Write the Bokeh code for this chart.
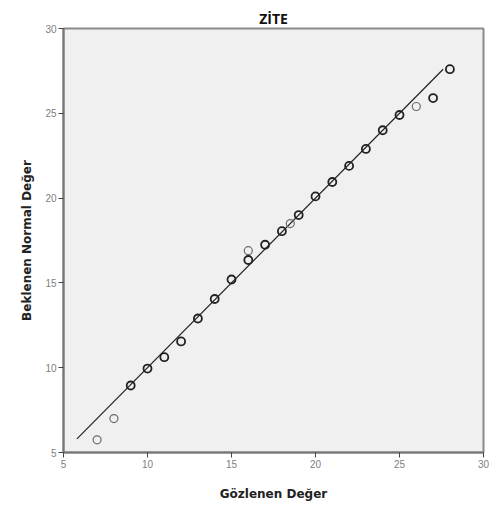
from bokeh.plotting import figure
from bokeh.models import Range1d, FixedTicker, Title
from bokeh.embed import file_html
from bokeh.resources import INLINE

# Observed value (x) vs expected normal value (y)
obs_multi = [9, 10, 11, 12, 13, 14, 15, 16, 17, 18, 19, 20, 21, 22, 23, 24, 25, 27, 28]
exp_multi = [8.95, 9.95, 10.62, 11.55, 12.9, 14.05, 15.2, 16.35, 17.25, 18.05, 19.0, 20.1, 20.95, 21.9, 22.9, 24.0, 24.9, 25.9, 27.6]
obs_single = [7, 8, 16, 18.5, 26]
exp_single = [5.75, 7.0, 16.9, 18.5, 25.4]
line_x = [5.8, 27.6]
line_y = [5.8, 27.6]
ticks = [5, 10, 15, 20, 25, 30]

p = figure(width=489, height=503, output_backend="svg", toolbar_location=None,
           x_range=Range1d(5, 30), y_range=Range1d(5, 30),
           min_border_left=63, min_border_right=6, min_border_top=28, min_border_bottom=50)

p.title = Title(text="ZİTE", align="center", text_font="Open Sans",
                text_font_size="14px", text_font_style="bold", text_color="#111111",
                offset=0, standoff=1)

p.background_fill_color = "#f0f0f0"
p.border_fill_color = "white"
p.outline_line_color = "#8a8a8a"
p.outline_line_width = 2
p.grid.visible = False

for ax in (p.xaxis[0], p.yaxis[0]):
    ax.ticker = FixedTicker(ticks=ticks)
    ax.minor_tick_line_color = None
    ax.major_tick_in = 0
    ax.major_tick_out = 5
    ax.major_tick_line_color = "#444444"
    ax.axis_line_color = "#777777"
    ax.axis_line_width = 2
    ax.major_label_text_font = "Liberation Sans"
    ax.major_label_text_font_size = "10px"
    ax.major_label_text_color = "#808080"
    ax.major_label_standoff = 2
    ax.axis_label_text_font = "DejaVu Sans"
    ax.axis_label_text_font_size = "12px"
    ax.axis_label_text_font_style = "bold"
    ax.axis_label_text_color = "#222222"

p.xaxis.axis_label = "Gözlenen Değer"
p.yaxis.axis_label = "Beklenen Normal Değer"
p.xaxis.axis_label_standoff = 16
p.yaxis.axis_label_standoff = 8
p.yaxis.major_label_orientation = 0

p.line(line_x, line_y, line_color="#222222", line_width=1.2)
p.scatter(obs_single, exp_single, marker="circle", size=8, fill_color=None,
          line_color="#6a6a6a", line_width=1.2)
p.scatter(obs_multi, exp_multi, marker="circle", size=8, fill_color=None,
          line_color="#222222", line_width=1.8)

open("out.html", "w").write(file_html(p, INLINE))
